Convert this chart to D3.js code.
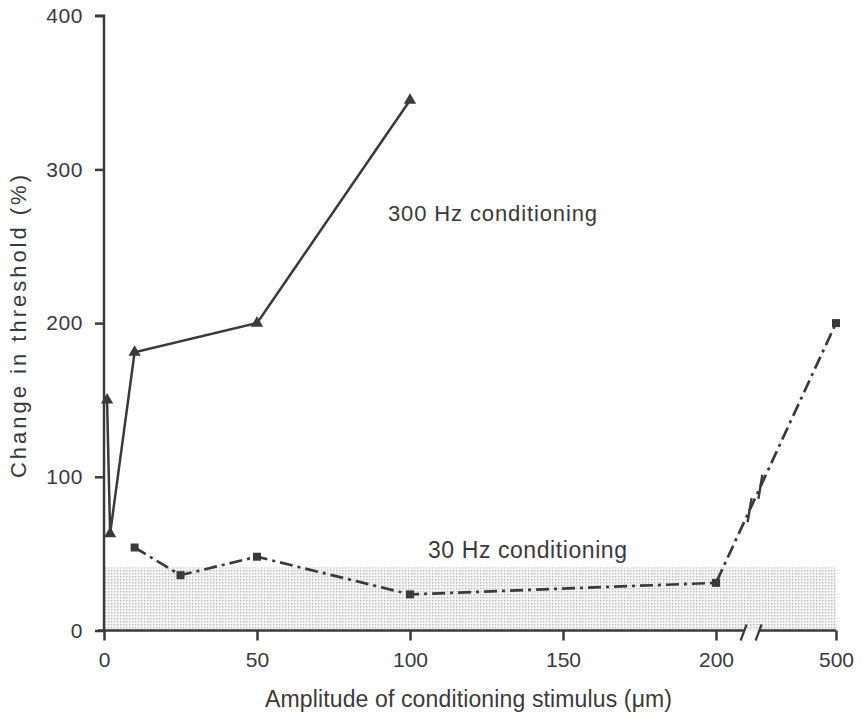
<!DOCTYPE html>
<html><head><meta charset="utf-8">
<script src="https://cdn.jsdelivr.net/npm/d3@7"></script>
<style>
body{margin:0;background:#fff;}
text{font-family:"Liberation Sans",Arial,Helvetica,sans-serif;fill:#3a3a3a;}
</style></head>
<body><svg id="c" width="866" height="717"></svg>
<script>
// data
const xTicks = [0, 50, 100, 150, 200, 500];
const yTicks = [0, 100, 200, 300, 400];
const hz300X = [1, 2, 10, 50, 100];
const hz300Y = [150, 63, 181, 200, 345];
const hz30X = [10, 25, 50, 100, 200, 500];
const hz30Y = [54, 36, 48, 23.5, 31, 200];
const bandTop = 41;

const ink = "#3a3a3a";
const svg = d3.select("#c");
svg.append("rect").attr("width",866).attr("height",717).attr("fill","#fff");

const x = d3.scaleLinear().domain([0, 200, 500]).range([104, 716, 836]);
const y = d3.scaleLinear().domain([0, 400]).range([630.5, 15.7]);

// shading pattern
const defs = svg.append("defs");
const pat = defs.append("pattern").attr("id","dots").attr("width",3).attr("height",3).attr("patternUnits","userSpaceOnUse");
pat.append("rect").attr("width",3).attr("height",3).attr("fill","#f5f5f5");
pat.append("rect").attr("width",1.4).attr("height",1.4).attr("fill","#bcbcbc");

svg.append("rect")
  .attr("x", x(0)).attr("y", y(bandTop))
  .attr("width", x(500) - x(0)).attr("height", y(0) - y(bandTop))
  .attr("fill","url(#dots)");

// y axis
const yAxis = d3.axisLeft(y).tickValues(yTicks).tickSize(9).tickPadding(12);
const gy = svg.append("g").attr("transform",`translate(${x(0)},0)`).call(yAxis);
gy.select(".domain").attr("d",`M-9,${y(400)}H0V${y(0)}`).attr("stroke",ink).attr("stroke-width",2.5).attr("fill","none");
gy.selectAll(".tick line").attr("stroke",ink).attr("stroke-width",2.5);
gy.selectAll(".tick text").attr("font-size",21).attr("fill",ink).attr("letter-spacing",0.6)
  .style("font-family","Liberation Sans, Arial, sans-serif");

// x axis with break
const xAxis = d3.axisBottom(x).tickValues(xTicks).tickSize(10).tickPadding(12);
const gx = svg.append("g").attr("transform",`translate(0,${y(0)})`).call(xAxis);
gx.select(".domain").remove();
gx.selectAll(".tick line").attr("stroke",ink).attr("stroke-width",2.5);
gx.selectAll(".tick text").attr("font-size",21).attr("fill",ink)
  .style("font-family","Liberation Sans Narrow, Liberation Sans, Arial, sans-serif");
const bx1 = x(200) + (x(500)-x(200))*0.23, bx2 = x(200) + (x(500)-x(200))*0.355;
gx.append("path").attr("d",`M${x(0)-6},0H${bx1}M${bx2+1},0H${x(500)}`)
  .attr("stroke",ink).attr("stroke-width",2.5).attr("fill","none");
[bx1, bx2].forEach(b=>{
  gx.append("path").attr("d",`M${b-3},10L${b+3},-6`).attr("stroke",ink).attr("stroke-width",2.2);
});

// lines
const line = d3.line().x(d=>x(d[0])).y(d=>y(d[1]));
const d300 = hz300X.map((v,i)=>[v, hz300Y[i]]);
const d30 = hz30X.map((v,i)=>[v, hz30Y[i]]);

svg.append("path").datum(d300).attr("d",line).attr("fill","none").attr("stroke",ink).attr("stroke-width",2.5);
svg.append("path").datum(d30).attr("d",line).attr("fill","none").attr("stroke",ink)
  .attr("stroke-width",2.7).attr("stroke-dasharray","13,5,3,5");

// break marks on the rising 30 Hz segment
const p1 = [x(200), y(31)], p2 = [x(500), y(200)];
[0.28, 0.37].forEach(f=>{
  const cx = p1[0] + (p2[0]-p1[0])*f, cy = p1[1] + (p2[1]-p1[1])*f;
  svg.append("path").attr("d",`M${cx-2},${cy+12}L${cx+2},${cy-12}`).attr("stroke",ink).attr("stroke-width",2.4);
});

// markers
const tri = d3.symbol().type(d3.symbolTriangle).size(65);
svg.selectAll(".tri").data(d300).enter().append("path")
  .attr("transform",d=>`translate(${x(d[0])},${y(d[1])})`).attr("d",tri).attr("fill",ink);
svg.selectAll(".sq").data(d30).enter().append("rect")
  .attr("x",d=>x(d[0])-4).attr("y",d=>y(d[1])-4).attr("width",8).attr("height",8).attr("fill",ink);

// labels
svg.append("text").attr("x",388).attr("y",221).attr("font-size",22)
  .attr("textLength",209).attr("lengthAdjust","spacing").text("300 Hz conditioning");
svg.append("text").attr("x",428).attr("y",558).attr("font-size",23)
  .attr("textLength",199).attr("lengthAdjust","spacing").text("30 Hz conditioning");
svg.append("text").attr("x",265).attr("y",707).attr("font-size",23)
  .attr("textLength",407).attr("lengthAdjust","spacing")
  .style("font-family","Liberation Sans Narrow, Liberation Sans, Arial, sans-serif")
  .text("Amplitude of conditioning stimulus (μm)");
svg.append("text").attr("transform","translate(26,478) rotate(-90)").attr("font-size",22)
  .attr("textLength",303).attr("lengthAdjust","spacing")
  .text("Change in threshold (%)");
</script></body></html>
